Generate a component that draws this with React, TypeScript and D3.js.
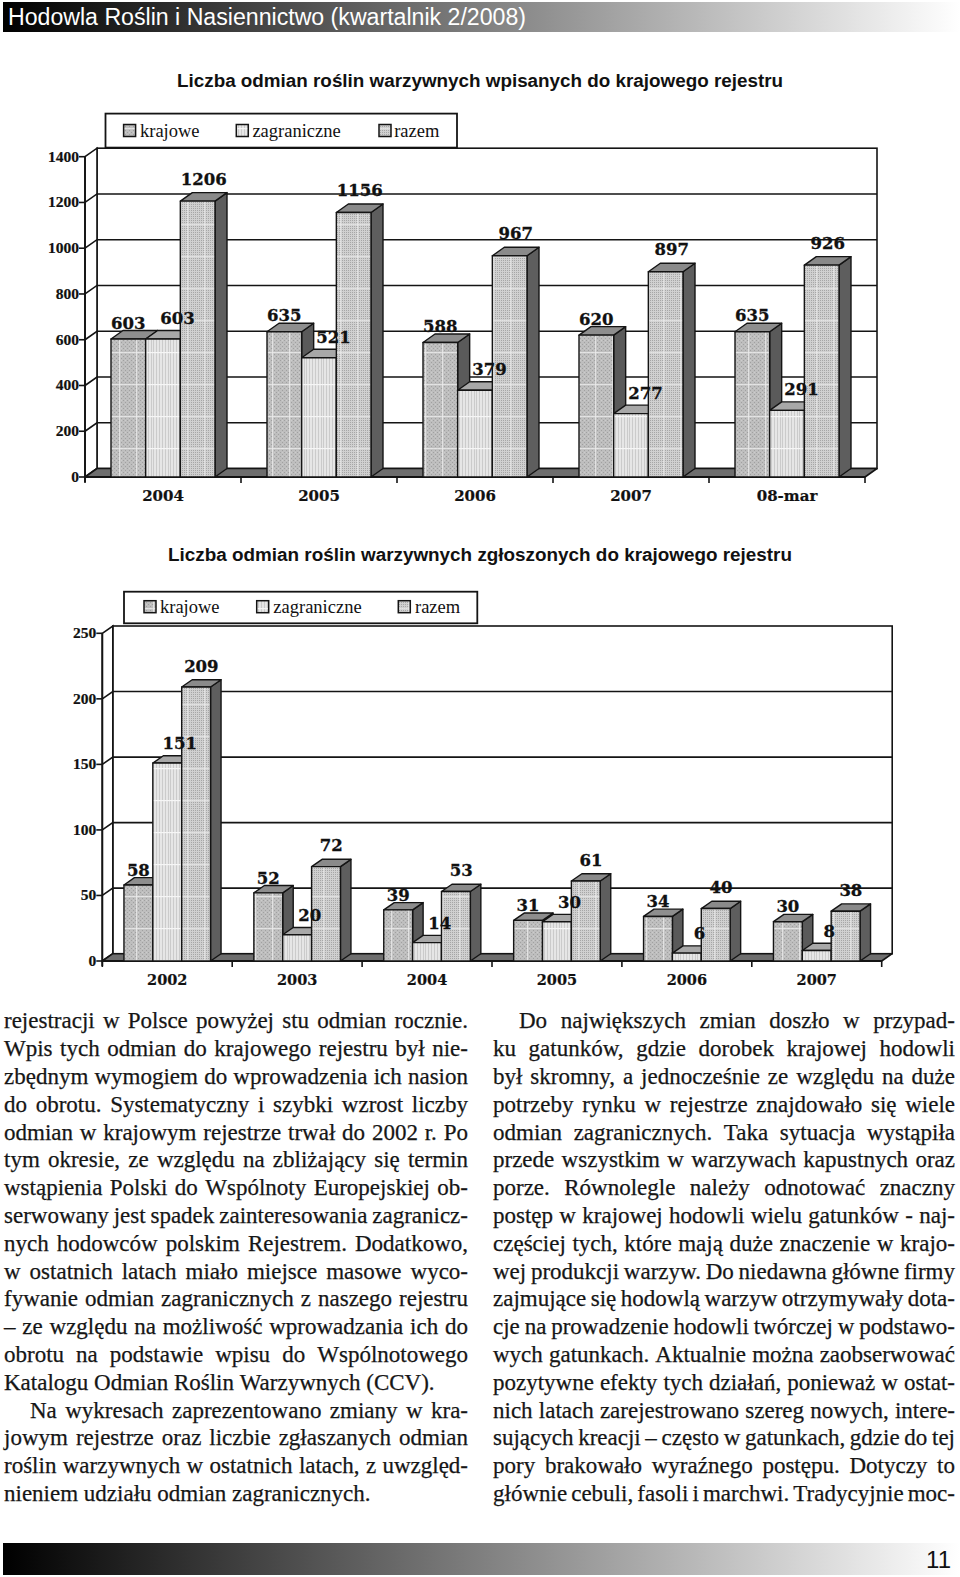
import React from 'react';
import * as d3 from 'd3';

// page texts
const headerTitle = 'Hodowla Roślin i Nasiennictwo (kwartalnik 2/2008)';
const pageNumber = '11';

const seriesNames = ['krajowe', 'zagraniczne', 'razem'];

// chart 1: varieties entered in the national register
const chart1Title = 'Liczba odmian roślin warzywnych wpisanych do krajowego rejestru';
const chart1Years = ['2004', '2005', '2006', '2007', '08-mar'];
const chart1Krajowe = [603, 635, 588, 620, 635];
const chart1Zagraniczne = [603, 521, 379, 277, 291];
const chart1Razem = [1206, 1156, 967, 897, 926];
const chart1Ticks = [0, 200, 400, 600, 800, 1000, 1200, 1400];

// chart 2: varieties submitted to the national register
const chart2Title = 'Liczba odmian roślin warzywnych zgłoszonych do krajowego rejestru';
const chart2Years = ['2002', '2003', '2004', '2005', '2006', '2007'];
const chart2Krajowe = [58, 52, 39, 31, 34, 30];
const chart2Zagraniczne = [151, 20, 14, 30, 6, 8];
const chart2Razem = [209, 72, 53, 61, 40, 38];
const chart2Ticks = [0, 50, 100, 150, 200, 250];

const leftColumn = [
  'rejestracji w Polsce powyżej stu odmian rocznie.',
  'Wpis tych odmian do krajowego rejestru był nie-',
  'zbędnym wymogiem do wprowadzenia ich nasion',
  'do obrotu. Systematyczny i szybki wzrost liczby',
  'odmian w krajowym rejestrze trwał do 2002 r. Po',
  'tym okresie, ze względu na zbliżający się termin',
  'wstąpienia Polski do Wspólnoty Europejskiej ob-',
  'serwowany jest spadek zainteresowania zagranicz-',
  'nych hodowców polskim Rejestrem. Dodatkowo,',
  'w ostatnich latach miało miejsce masowe wyco-',
  'fywanie odmian zagranicznych z naszego rejestru',
  '– ze względu na możliwość wprowadzania ich do',
  'obrotu na podstawie wpisu do Wspólnotowego',
  'Katalogu Odmian Roślin Warzywnych (CCV).',
  'Na wykresach zaprezentowano zmiany w kra-',
  'jowym rejestrze oraz liczbie zgłaszanych odmian',
  'roślin warzywnych w ostatnich latach, z uwzględ-',
  'nieniem udziału odmian zagranicznych.',
];
const leftIndented = [14];
const leftLast = [13, 17];

const rightColumn = [
  'Do największych zmian doszło w przypad-',
  'ku gatunków, gdzie dorobek krajowej hodowli',
  'był skromny, a jednocześnie ze względu na duże',
  'potrzeby rynku w rejestrze znajdowało się wiele',
  'odmian zagranicznych. Taka sytuacja wystąpiła',
  'przede wszystkim w warzywach kapustnych oraz',
  'porze. Równolegle należy odnotować znaczny',
  'postęp w krajowej hodowli wielu gatunków - naj-',
  'częściej tych, które mają duże znaczenie w krajo-',
  'wej produkcji warzyw. Do niedawna główne firmy',
  'zajmujące się hodowlą warzyw otrzymywały dota-',
  'cje na prowadzenie hodowli twórczej w podstawo-',
  'wych gatunkach. Aktualnie można zaobserwować',
  'pozytywne efekty tych działań, ponieważ w ostat-',
  'nich latach zarejestrowano szereg nowych, intere-',
  'sujących kreacji – często w gatunkach, gdzie do tej',
  'pory brakowało wyraźnego postępu. Dotyczy to',
  'głównie cebuli, fasoli i marchwi. Tradycyjnie moc-',
];
const rightIndented = [0];
const rightLast: number[] = [];

const fronts = ['url(#pk)', 'url(#pz)', 'url(#pr)'];
const tops = ['#8e8e8e', '#a8a8a8', '#8a8a8a'];
const sides = ['#5a5a5a', '#7a7a7a', '#5e5e5e'];
// where Excel put the value labels, relative to the bar's depth offset
const labelShiftX = [0, 1.2, 0.5];
const labelLift = [2, 6.5, 8];

let ctx: CanvasRenderingContext2D | null = null;
function measure(text: string, font: string) {
  if (!ctx) ctx = document.createElement('canvas').getContext('2d');
  ctx!.font = font;
  return ctx!.measureText(text).width;
}

type Layout = {
  x0: number; x1: number; yBase: number; yTop: number; dx: number; dy: number;
  catY: number; catSize: number; titleY: number; titleLen: number;
  legend: { x: number; y: number; w: number; h: number; items: number[][]; sqY: number; textY: number };
};

function Chart3D({ title, categories, values, ticks, L }: {
  title: string; categories: string[]; values: number[][]; ticks: number[]; L: Layout;
}) {
  const { dx, dy } = L;
  const x = d3.scaleBand<string>().domain(categories).range([L.x0, L.x1]);
  const xs = d3.scaleBand<string>().domain(seriesNames).range([0, x.step()]).paddingInner(0).paddingOuter(0.75);
  const y = d3.scaleLinear().domain([0, ticks[ticks.length - 1]]).range([L.yBase, L.yTop]);
  const w = xs.bandwidth();
  const backR = L.x1 + dx;
  const line = '#141414';

  const bars: React.ReactNode[] = [];
  const labels: React.ReactNode[] = [];
  categories.forEach((c, ci) => {
    seriesNames.forEach((s, si) => {
      const v = values[si][ci];
      const bx = (x(c) as number) + (xs(s) as number);
      const yt = y(v);
      const yb = L.yBase;
      bars.push(
        <g key={c + s} stroke={line} strokeWidth={1.4} strokeLinejoin="round">
          <polygon points={`${bx + w},${yt} ${bx + w + dx},${yt - dy} ${bx + w + dx},${yb - dy} ${bx + w},${yb}`} fill={sides[si]} />
          <polygon points={`${bx},${yt} ${bx + dx},${yt - dy} ${bx + w + dx},${yt - dy} ${bx + w},${yt}`} fill={tops[si]} />
          <rect x={bx} y={yt} width={w} height={yb - yt} fill={fronts[si]} />
        </g>
      );
      labels.push(
        <text key={'l' + c + s} x={bx + w / 2 + dx * labelShiftX[si]} y={yt - dy - labelLift[si]} textAnchor="middle"
          fontFamily="'DejaVu Serif'" fontWeight="bold" fontSize={16.5} fill="#111"
          stroke="#111" strokeWidth={0.3}>{v}</text>
      );
    });
  });

  const lg = L.legend;
  return (
    <g>
      <text x={480} y={L.titleY} textAnchor="middle" fontFamily="'Liberation Sans', Arial" fontWeight="bold"
        fontSize={18.8} textLength={L.titleLen} lengthAdjust="spacingAndGlyphs" fill="#111">{title}</text>

      {/* walls */}
      <rect x={L.x0 + dx} y={L.yTop - dy} width={L.x1 - L.x0} height={L.yBase - L.yTop} fill="#fff" stroke={line} strokeWidth={1.6} />
      <polygon points={`${L.x0},${L.yTop} ${L.x0 + dx},${L.yTop - dy} ${L.x0 + dx},${L.yBase - dy} ${L.x0},${L.yBase}`}
        fill="#fff" stroke={line} strokeWidth={1.6} />
      {ticks.slice(1, -1).map(t => (
        <polyline key={t} points={`${L.x0},${y(t)} ${L.x0 + dx},${y(t) - dy} ${backR},${y(t) - dy}`}
          fill="none" stroke={line} strokeWidth={1.6} />
      ))}
      {/* floor */}
      <polygon points={`${L.x0},${L.yBase} ${L.x0 + dx},${L.yBase - dy} ${backR},${L.yBase - dy} ${L.x1},${L.yBase}`}
        fill="#6e6e6e" stroke={line} strokeWidth={1.6} strokeLinejoin="round" />

      {/* y axis */}
      <line x1={L.x0} x2={L.x0} y1={L.yTop} y2={L.yBase + 5} stroke={line} strokeWidth={1.8} />
      {ticks.map(t => (
        <g key={t}>
          <line x1={L.x0 - 6} x2={L.x0} y1={y(t)} y2={y(t)} stroke={line} strokeWidth={1.6} />
          <text x={L.x0 - 6} y={y(t) + 5} textAnchor="end" fontFamily="'Liberation Serif'" fontWeight="bold"
            fontSize={15.5} fill="#111" stroke="#111" strokeWidth={0.2}>{t}</text>
        </g>
      ))}
      {/* x axis */}
      <line x1={L.x0} x2={L.x1} y1={L.yBase} y2={L.yBase} stroke={line} strokeWidth={1.8} />
      {d3.range(categories.length + 1).map(i => {
        const tx = L.x0 + i * x.step();
        return <line key={i} x1={tx} x2={tx} y1={L.yBase} y2={L.yBase + 6} stroke={line} strokeWidth={1.6} />;
      })}
      {categories.map(c => (
        <text key={c} x={(x(c) as number) + x.bandwidth() / 2} y={L.catY} textAnchor="middle"
          fontFamily="'DejaVu Serif'" fontWeight="bold" fontSize={L.catSize} fill="#111"
          stroke="#111" strokeWidth={0.2}>{c}</text>
      ))}

      {bars}
      {labels}

      {/* legend */}
      <rect x={lg.x} y={lg.y} width={lg.w} height={lg.h} fill="#fff" stroke={line} strokeWidth={1.8} />
      {seriesNames.map((s, i) => (
        <g key={s}>
          <rect x={lg.items[i][0]} y={lg.sqY} width={12} height={12} fill={fronts[i]} stroke={line} strokeWidth={1.5} />
          <text x={lg.items[i][1]} y={lg.textY} fontFamily="'Liberation Serif'" fontSize={18.5} fill="#111">{s}</text>
        </g>
      ))}
    </g>
  );
}

const bodyFont = "23px 'Liberation Serif'";

function Column({ lines, x, width, y0, lh, indented, last }: {
  lines: string[]; x: number; width: number; y0: number; lh: number; indented: number[]; last: number[];
}) {
  const space = measure(' ', bodyFont);
  return (
    <g fontFamily="'Liberation Serif'" fontSize={23} fill="#161616" stroke="#161616" strokeWidth={0.25}>
      {lines.map((ln, i) => {
        const indent = indented.includes(i) ? 26 : 0;
        const words = ln.split(' ');
        const widths = words.map(wd => measure(wd, bodyFont));
        const total = d3.sum(widths);
        const justify = !last.includes(i) && words.length > 1;
        const gap = justify ? Math.max(2, (width - indent - total) / (words.length - 1)) : space;
        let cx = x + indent;
        const pos = widths.map(wd => { const p = cx; cx += wd + gap; return p; });
        return (
          <text key={i} y={y0 + i * lh}>
            {words.map((wd, j) => <tspan key={j} x={pos[j]}>{wd}</tspan>)}
          </text>
        );
      })}
    </g>
  );
}

const layout1: Layout = {
  x0: 85, x1: 865, yBase: 477, yTop: 156.7, dx: 12, dy: 8.5, catY: 501, catSize: 15,
  titleY: 87, titleLen: 606,
  legend: { x: 105.5, y: 113.6, w: 351.5, h: 34, items: [[123.6, 140], [236.3, 252.4], [379, 394.2]], sqY: 124.5, textY: 136.5 },
};
const layout2: Layout = {
  x0: 102.3, x1: 881.7, yBase: 961, yTop: 633.3, dx: 10.5, dy: 7.3, catY: 985, catSize: 14.5,
  titleY: 561, titleLen: 624,
  legend: { x: 124, y: 591.7, w: 353.3, h: 31.6, items: [[144, 160], [256.7, 273.3], [398.3, 415]], sqY: 600.7, textY: 612.7 },
};

export default function App() {
  return (
    <svg width={960} height={1577} style={{ position: 'absolute', left: 0, top: 0 }}>
      <defs>
        <linearGradient id="bandGrad" x1="0" x2="1" y1="0" y2="0">
          <stop offset="0" stopColor="#000" />
          <stop offset="1" stopColor="#fff" />
        </linearGradient>
        <pattern id="pkBase" width="4" height="4" patternUnits="userSpaceOnUse">
          <rect width="4" height="4" fill="#bebebe" />
          <rect width="1" height="1" fill="#a0a0a0" />
          <rect x="2" y="2" width="1" height="1" fill="#a0a0a0" />
          <rect x="2" y="0" width="1" height="1" fill="#cccccc" />
        </pattern>
        <pattern id="pk" width="17" height="32" patternUnits="userSpaceOnUse">
          <rect width="17" height="32" fill="url(#pkBase)" />
          <rect width="1.2" height="32" fill="#ececec" opacity="0.8" />
          <rect width="17" height="1.2" fill="#ececec" opacity="0.8" />
        </pattern>
        <pattern id="pzBase" width="3" height="4" patternUnits="userSpaceOnUse">
          <rect width="3" height="4" fill="#e6e6e6" />
          <rect width="1" height="4" fill="#cbcbcb" />
        </pattern>
        <pattern id="pz" width="17" height="32" patternUnits="userSpaceOnUse">
          <rect width="17" height="32" fill="url(#pzBase)" />
          <rect width="17" height="1.2" fill="#f6f6f6" />
        </pattern>
        <pattern id="prBase" width="2" height="2" patternUnits="userSpaceOnUse">
          <rect width="2" height="2" fill="#d0d0d0" />
          <rect width="1" height="1" fill="#a6a6a6" />
        </pattern>
        <pattern id="pr" width="17" height="32" patternUnits="userSpaceOnUse">
          <rect width="17" height="32" fill="url(#prBase)" />
          <rect width="1.2" height="32" fill="#efefef" opacity="0.7" />
          <rect width="17" height="1.2" fill="#efefef" opacity="0.7" />
        </pattern>
      </defs>
      <rect width={960} height={1577} fill="#fff" />

      {/* header band */}
      <rect x={3} y={2} width={957} height={30} fill="url(#bandGrad)" />
      <text x={8} y={24.5} fontFamily="'Liberation Sans', Arial" fontSize={23} fill="#fff"
        textLength={518} lengthAdjust="spacingAndGlyphs">{headerTitle}</text>

      <Chart3D title={chart1Title} categories={chart1Years}
        values={[chart1Krajowe, chart1Zagraniczne, chart1Razem]} ticks={chart1Ticks} L={layout1} />
      <Chart3D title={chart2Title} categories={chart2Years}
        values={[chart2Krajowe, chart2Zagraniczne, chart2Razem]} ticks={chart2Ticks} L={layout2} />

      <Column lines={leftColumn} x={4} width={464} y0={1028.3} lh={27.8} indented={leftIndented} last={leftLast} />
      <Column lines={rightColumn} x={493} width={462} y0={1028.3} lh={27.8} indented={rightIndented} last={rightLast} />

      {/* footer band */}
      <rect x={3} y={1543} width={957} height={32} fill="url(#bandGrad)" />
      <text x={951} y={1568} textAnchor="end" fontFamily="'Liberation Sans', Arial" fontSize={24} fill="#111">{pageNumber}</text>
    </svg>
  );
}
